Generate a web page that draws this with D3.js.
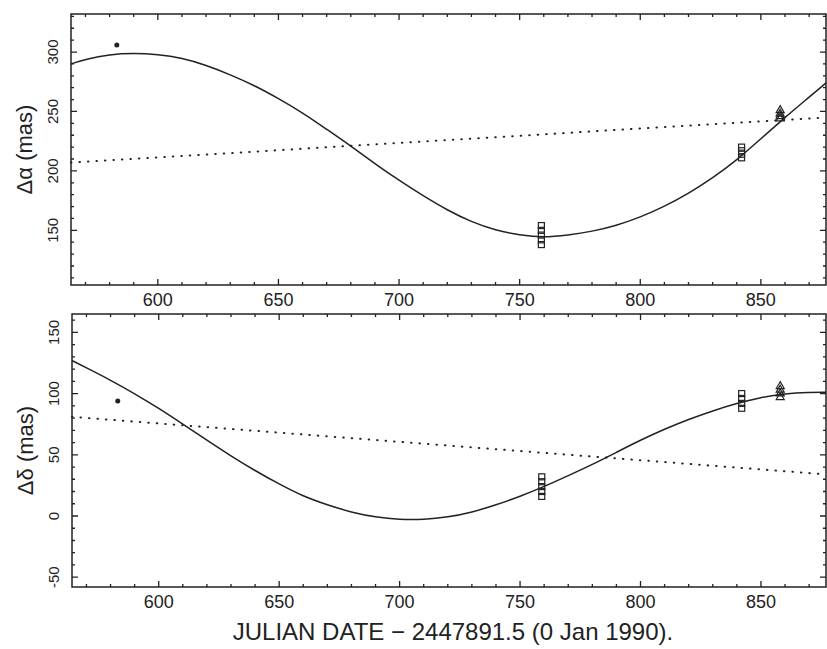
<!DOCTYPE html>
<html>
<head>
<meta charset="utf-8">
<script src="https://cdn.jsdelivr.net/npm/d3@7"></script>
<style>
  body { margin: 0; background: #fff; }
  text { font-family: "Liberation Sans", Arial, sans-serif; fill: #222; }
</style>
</head>
<body>
<div id="chart"></div>
<script>
// fitted orbit curves, x = JD - 2447891.5
var alphaFitX = [564, 570, 580, 590, 600, 610, 620, 630, 640, 650, 660, 670, 680, 690, 700, 710, 720, 730, 740, 750, 760, 770, 780, 790, 800, 810, 820, 830, 840, 850, 860, 870, 877];
var alphaFitY = [290, 294, 298, 299, 298, 295, 289, 281, 272, 261, 249, 235, 221, 206, 192, 179, 167, 157, 150, 146, 144, 146, 149, 154, 161, 170, 181, 194, 209, 227, 245, 262, 274];
var alphaTrendX = [564, 877];
var alphaTrendY = [207, 245];

var deltaFitX = alphaFitX;
var deltaFitY = [127, 121, 111, 100, 88, 75, 62, 49, 37, 26, 16, 9, 3, -1, -3, -3, -1, 3, 9, 16, 24, 33, 42, 52, 62, 71, 79, 86, 92, 97, 100, 101, 101];
var deltaTrendX = [564, 877];
var deltaTrendY = [81, 34];

// observations
var obsDotX = [583];
var obsDotAlpha = [306];
var obsDotDelta = [94];

var obsSqX = [759, 759, 759, 759, 759, 842, 842, 842, 842];
var obsSqAlpha = [154, 150, 146, 142, 138, 220, 217, 214, 211];
var obsSqDelta = [32, 28, 24, 20, 16, 100, 96, 92, 88];

var obsTriX = [858, 858, 858, 858];
var obsTriAlpha = [251, 248, 246, 244];
var obsTriDelta = [106, 103, 100, 97];

var xTicks = [600, 650, 700, 750, 800, 850];
var alphaTicks = [150, 200, 250, 300];
var deltaTicks = [-50, 0, 50, 100, 150];

var W = 827, H = 649;
var svg = d3.select("#chart").append("svg").attr("width", W).attr("height", H);

var ink = "#222";

function panel(box, yDomain, yTicks, fitY, trendX, trendY, dotY, sqY, triY, title) {
  var x = d3.scaleLinear().domain([564, 877]).range([box.l, box.r]);
  var y = d3.scaleLinear().domain(yDomain).range([box.b, box.t]);
  var g = svg.append("g");

  // curves
  var line = d3.line().x(function(d) { return x(d[0]); }).y(function(d) { return y(d[1]); });
  g.append("path")
    .datum(d3.zip(alphaFitX, fitY))
    .attr("d", line.curve(d3.curveBasis))
    .attr("fill", "none").attr("stroke", ink).attr("stroke-width", 1.5);
  g.append("path")
    .datum(d3.zip(trendX, trendY))
    .attr("d", d3.line().x(function(d) { return x(d[0]); }).y(function(d) { return y(d[1]); }))
    .attr("fill", "none").attr("stroke", ink).attr("stroke-width", 2)
    .attr("stroke-linecap", "round").attr("stroke-dasharray", "0.5,8");

  // observations
  g.selectAll(".dot").data(d3.zip(obsDotX, dotY)).enter().append("circle")
    .attr("cx", function(d) { return x(d[0]); })
    .attr("cy", function(d) { return y(d[1]); })
    .attr("r", 2.5).attr("fill", ink);
  g.selectAll(".sq").data(d3.zip(obsSqX, sqY)).enter().append("rect")
    .attr("x", function(d) { return x(d[0]) - 3; })
    .attr("y", function(d) { return y(d[1]) - 3; })
    .attr("width", 6).attr("height", 6)
    .attr("fill", "none").attr("stroke", ink).attr("stroke-width", 1.2);
  g.selectAll(".tri").data(d3.zip(obsTriX, triY)).enter().append("path")
    .attr("transform", function(d) { return "translate(" + x(d[0]) + "," + y(d[1]) + ")"; })
    .attr("d", d3.symbol().type(d3.symbolTriangle).size(28))
    .attr("fill", "none").attr("stroke", ink).attr("stroke-width", 1.2);

  // frame with inward ticks on all sides
  g.append("rect")
    .attr("x", box.l).attr("y", box.t)
    .attr("width", box.r - box.l).attr("height", box.b - box.t)
    .attr("fill", "none").attr("stroke", ink).attr("stroke-width", 1.5);

  var xMinor = d3.range(570, 877, 10);
  g.selectAll(".xt").data(xMinor).enter().append("path")
    .attr("d", function(d) {
      var len = d % 50 === 0 ? 6 : 3;
      return "M" + x(d) + "," + box.b + "v" + (-len) + "M" + x(d) + "," + box.t + "v" + len;
    })
    .attr("stroke", ink).attr("stroke-width", 1.3);

  var yMinor = d3.range(Math.ceil(yDomain[0] / 10) * 10, yDomain[1], 10);
  g.selectAll(".yt").data(yMinor).enter().append("path")
    .attr("d", function(d) {
      var len = d % 50 === 0 ? 6 : 3;
      return "M" + box.l + "," + y(d) + "h" + len + "M" + box.r + "," + y(d) + "h" + (-len);
    })
    .attr("stroke", ink).attr("stroke-width", 1.3);

  g.selectAll(".xl").data(xTicks).enter().append("text")
    .attr("x", function(d) { return x(d); })
    .attr("y", box.b + 21)
    .attr("text-anchor", "middle")
    .attr("font-size", "18px")
    .text(function(d) { return d; });

  g.selectAll(".yl").data(yTicks).enter().append("text")
    .attr("transform", function(d) { return "translate(" + (box.l - 13) + "," + y(d) + ") rotate(-90)"; })
    .attr("text-anchor", "middle")
    .attr("font-size", "15px")
    .text(function(d) { return d; });

  g.append("text")
    .attr("transform", "translate(" + (box.l - 39) + "," + ((box.t + box.b) / 2) + ") rotate(-90)")
    .attr("text-anchor", "middle")
    .attr("font-size", "22px")
    .text(title);

  return x;
}

panel({ l: 71, r: 826, t: 14, b: 285 }, [104, 332], alphaTicks, alphaFitY, alphaTrendX, alphaTrendY,
  obsDotAlpha, obsSqAlpha, obsTriAlpha, "\u0394\u03b1  (mas)");
panel({ l: 72, r: 826, t: 314, b: 587 }, [-58, 165], deltaTicks, deltaFitY, deltaTrendX, deltaTrendY,
  obsDotDelta, obsSqDelta, obsTriDelta, "\u0394\u03b4  (mas)");

svg.append("text")
  .attr("x", 453).attr("y", 640)
  .attr("text-anchor", "middle")
  .attr("font-size", "24px")
  .text("JULIAN DATE \u2212 2447891.5 (0 Jan 1990).");
</script>
</body>
</html>
